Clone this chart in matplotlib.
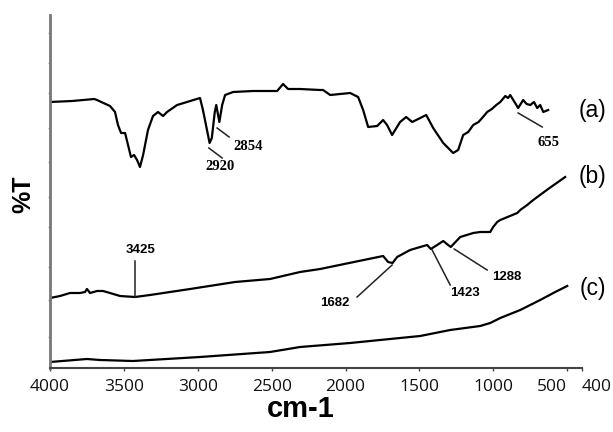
import matplotlib
matplotlib.use("Agg")
import matplotlib.pyplot as plt

# FTIR spectra: wavenumber (cm-1) vs transmittance (arbitrary offset units)
wn_a = [4000, 3850, 3700, 3682, 3594, 3560, 3540, 3519, 3492, 3472, 3452, 3431,
        3411, 3391, 3370, 3337, 3303, 3269, 3235, 3208, 3140, 3073, 2985, 2965,
        2920, 2905, 2885, 2875, 2854, 2835, 2815, 2761, 2626, 2463, 2423, 2389,
        2308, 2172, 2152, 2104, 1969, 1915, 1881, 1847, 1786, 1746, 1719, 1685,
        1631, 1590, 1549, 1454, 1407, 1339, 1272, 1238, 1204, 1170, 1136, 1100,
        1070, 1042, 1010, 980, 953, 919, 900, 886, 865, 832, 815, 798, 775, 750,
        725, 703, 683, 662, 629]
tr_a = [266, 267, 269, 268, 262, 256, 243, 235, 235, 223, 211, 213,
        208, 201, 213, 238, 252, 256, 252, 256, 263, 266, 270, 258,
        225, 230, 256, 263, 246, 263, 273, 276, 277, 277, 284, 279,
        279, 278, 278, 273, 275, 271, 258, 241, 242, 248, 243, 233,
        246, 251, 246, 253, 240, 225, 215, 218, 233, 236, 243, 246,
        251, 256, 259, 263, 266, 272, 270, 273, 268, 260, 264, 268, 264, 263,
        266, 260, 263, 256, 258]

wn_b = [4000, 3932, 3865, 3797, 3763, 3750, 3729, 3682, 3641, 3594, 3526, 3425,
        3323, 3052, 2748, 2511, 2308, 2172, 1746, 1712, 1682, 1651, 1563, 1495,
        1448, 1423, 1380, 1339, 1306, 1288, 1224, 1136, 1089, 1021, 1001, 974,
        953, 838, 818, 771, 730, 629, 514]
tr_b = [70, 72, 75, 75, 76, 79, 75, 77, 77, 75, 72, 71,
        73, 79, 86, 89, 96, 99, 112, 106, 105, 111, 118, 121,
        123, 119, 123, 127, 123, 121, 131, 135, 136, 136, 141, 146,
        148, 155, 158, 163, 168, 179, 191]

wn_c = [4000, 3750, 3662, 3438, 2985, 2511, 2308, 1969, 1631, 1495, 1292, 1089,
        1021, 953, 818, 683, 581, 500]
tr_c = [6, 9, 8, 7, 11, 16, 21, 25, 30, 32, 38, 42,
        45, 50, 58, 68, 76, 82]

xtick_vals = [4000, 3500, 3000, 2500, 2000, 1500, 1000, 500, 400]
ytick_vals = [31, 68, 101, 141, 171, 206, 240, 275, 305, 335]

# peak annotations: text, text position, leader line start/end
peaks_serif = [
    ("2920", (2849, 202), (2925, 220), (2835, 210)),
    ("2854", (2660, 221), (2869, 240), (2788, 231)),
    ("655", (629, 226), (832, 255), (669, 241)),
]
peaks_sans = [
    ("3425", (3384, 118), (3425, 71), (3425, 107)),
    ("1682", (2071, 65), (1685, 103), (1922, 71)),
    ("1423", (1190, 75), (1414, 118), (1292, 83)),
    ("1288", (906, 91), (1265, 119), (1042, 98)),
]
curve_tags = [("(a)", 110), ("(b)", 177), ("(c)", 288)]

fig = plt.figure(figsize=(6.13, 4.32), dpi=100)
ax = fig.add_axes([50 / 613, 1 - 368 / 432, 532 / 613, 353 / 432])

for wn, tr in [(wn_a, tr_a), (wn_b, tr_b), (wn_c, tr_c)]:
    ax.plot(wn, tr, color="black", linewidth=1.6, solid_joinstyle="round")

ax.set_xlim(4000, 400)
ax.set_ylim(0, 353)

for text, pos, p0, p1 in peaks_serif:
    ax.plot([p0[0], p1[0]], [p0[1], p1[1]], color="#222", linewidth=1.1)
    ax.text(pos[0], pos[1], text, ha="center", va="center", fontsize=10.5,
            fontweight="bold", family="Liberation Serif")
for text, pos, p0, p1 in peaks_sans:
    ax.plot([p0[0], p1[0]], [p0[1], p1[1]], color="#222", linewidth=1.1)
    ax.text(pos[0], pos[1], text, ha="center", va="center", fontsize=9.5,
            fontweight="bold", family="Liberation Sans")

for tag, py in curve_tags:
    fig.text(593 / 613, 1 - py / 432, tag, ha="center", va="center",
             fontsize=16.5, family="Liberation Sans")

for side in ["top", "right"]:
    ax.spines[side].set_visible(False)
ax.spines["left"].set_color("#777")
ax.spines["left"].set_linewidth(2)
ax.spines["bottom"].set_color("#444")
ax.spines["bottom"].set_linewidth(1.5)

ax.set_xticks(xtick_vals)
labels = ax.set_xticklabels([str(v) for v in xtick_vals], family="Open Sans",
                            fontsize=12.5, color="#111")
labels[-2].set_ha("right")
labels[-1].set_ha("left")
ax.tick_params(axis="x", length=2, width=1, color="#444", pad=6)
ax.set_yticks(ytick_vals)
ax.set_yticklabels([])
ax.tick_params(axis="y", length=1.5, width=1, color="#aaa")

fig.text(23 / 613, 1 - 194 / 432, "%T", rotation=90, ha="center", va="center",
         fontsize=18, fontweight="bold", family="Liberation Sans")
fig.text(301 / 613, 1 - 409 / 432, "cm-1", ha="center", va="center",
         fontsize=21, fontweight="bold", family="Liberation Sans")

fig.savefig("out.png", dpi=100)
